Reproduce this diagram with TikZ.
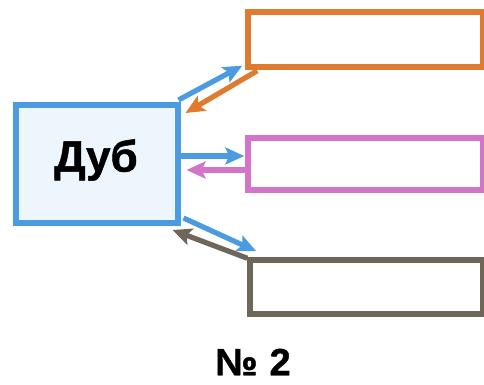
\documentclass[tikz,border=0pt]{standalone}
\usepackage{fontspec}
\setmainfont{Liberation Sans}
\newfontfamily\heavyfont[FakeBold=1.2]{Liberation Sans Bold}
\usetikzlibrary{arrows.meta}
\definecolor{cblue}{HTML}{4A9BE0}
\definecolor{cfill}{HTML}{EDF6FC}
\definecolor{corange}{HTML}{E07A2E}
\definecolor{cpink}{HTML}{D374C9}
\definecolor{cgray}{HTML}{6E6658}
\tikzset{
  box/.style={draw, line width=5.5pt, inner sep=0pt, fill=white},
  arr/.style={line width=5.2pt, -{Stealth[length=19pt,width=17pt,inset=4pt]}},
}
\begin{document}
\begin{tikzpicture}[x=1pt,y=-1pt]
\useasboundingbox[fill=white] (0,0) rectangle (484,385);
\node[box, draw=cblue, fill=cfill, line width=6pt, minimum width=162pt, minimum height=118pt] (main) at (96.5,164) {};
\node[font=\heavyfont\fontsize{44}{46}\selectfont] (lbl) at (96,160) {Дуб};
\node[box, draw=corange, minimum width=235pt, minimum height=55pt] (orange) at (365.5,39.5) {};
\node[box, draw=cpink, minimum width=235pt, minimum height=52pt] (pink) at (365.5,164) {};
\node[box, draw=cgray, minimum width=233pt, minimum height=54pt] (gray) at (366.5,287) {};
% top pair
\draw[arr, cblue] ([shift={(-2,-2)}]main.north east) -- ([shift={(-3,-4)}]orange.south west);
\draw[arr, corange] ([shift={(12,1)}]orange.south west) -- ([shift={(5,11)}]main.north east);
% middle pair
\draw[arr, cblue] ([yshift=8]main.east) -- ([yshift=8,xshift=-1]pink.west);
\draw[arr, cpink] ([yshift=-6]pink.west) -- ([yshift=-6,xshift=6]main.east);
% bottom pair
\draw[arr, cblue] ([shift={(3,-8)}]main.south east) -- ([shift={(9,-6)}]gray.north west);
\draw[arr, cgray] ([shift={(0,1)}]gray.north west) -- ([shift={(-8,4)}]main.south east);
\node[font=\heavyfont\fontsize{38}{40}\selectfont] (num) at (253,362) {№\hspace{12pt}2};
\end{tikzpicture}
\end{document}
